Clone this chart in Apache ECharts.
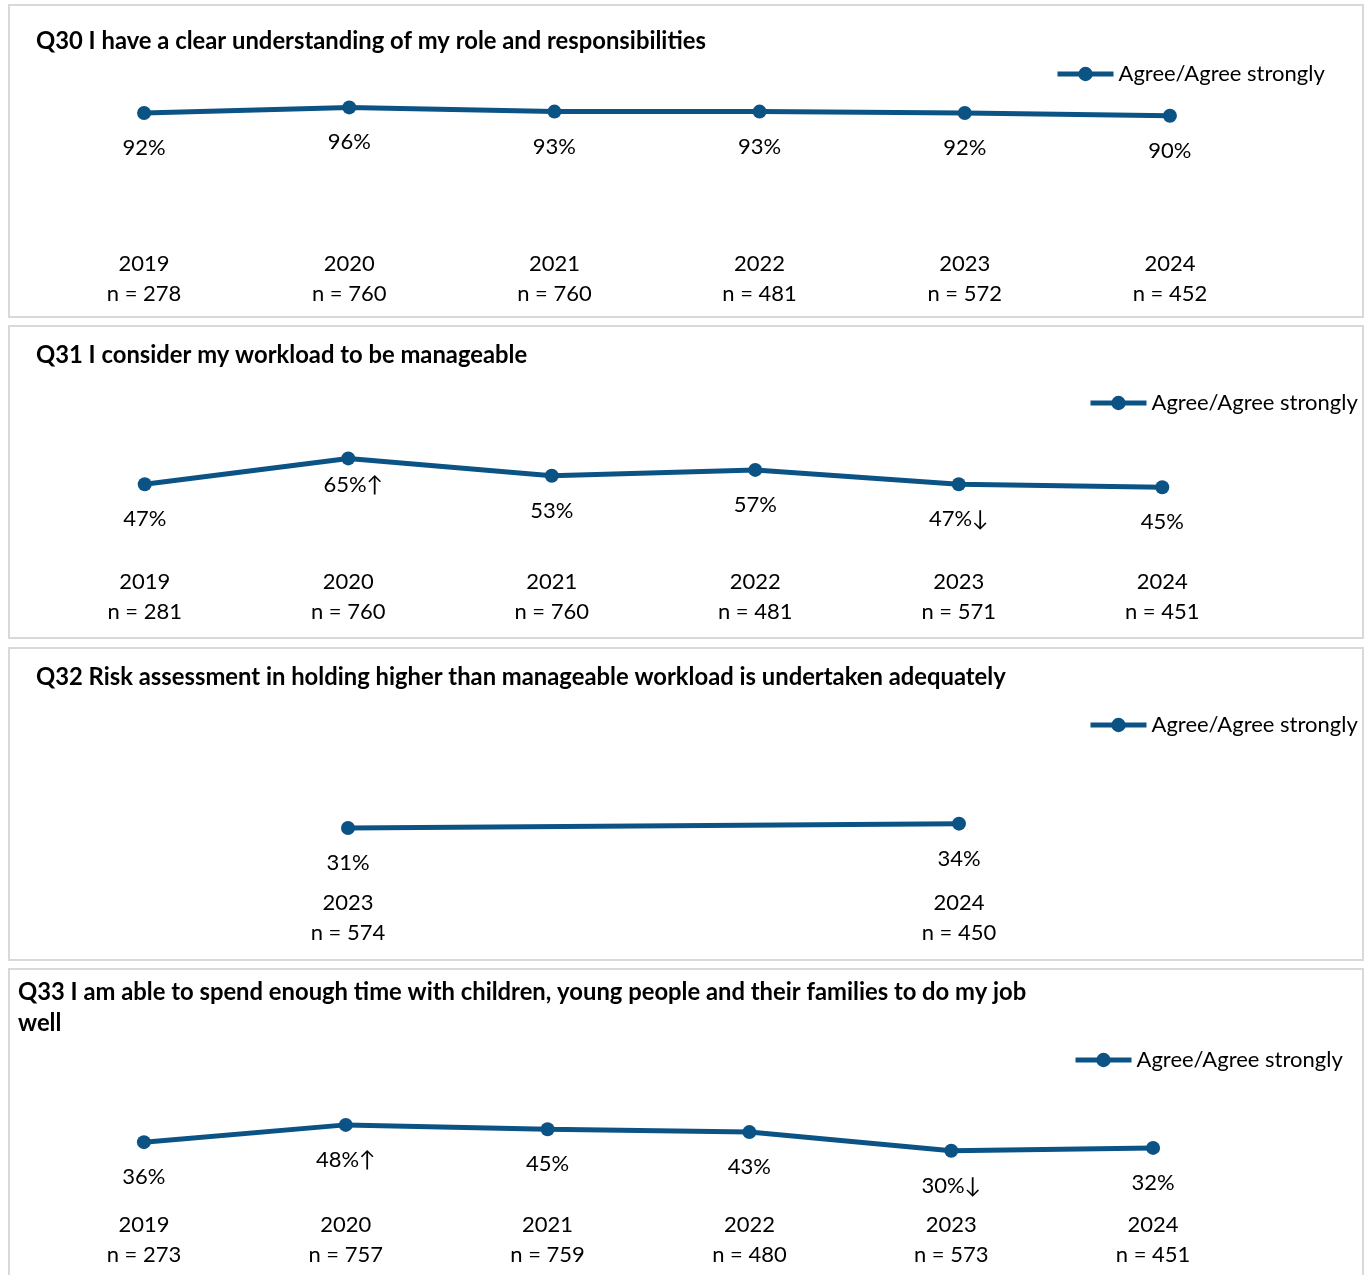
<!DOCTYPE html>
<html>
<head>
<meta charset="utf-8">
<title>Survey trend charts</title>
<script src="https://cdn.jsdelivr.net/npm/echarts@6/dist/echarts.min.js"></script>
<style>
  html, body { margin: 0; padding: 0; background: #fff; width: 1366px; height: 1275px; overflow: hidden; }
  .panel { position: absolute; left: 8px; width: 1356px; height: 314px; box-sizing: border-box; border: 2px solid #d9d9d9; }
</style>
</head>
<body>
<div id="p1" class="panel" style="top:4px"></div>
<div id="p2" class="panel" style="top:325px"></div>
<div id="p3" class="panel" style="top:647px"></div>
<div id="p4" class="panel" style="top:968px"></div>

<script>
// data
const years = ['2019', '2020', '2021', '2022', '2023', '2024']

const q30Values = [92, 96, 93, 93, 92, 90]
const q30N = [278, 760, 760, 481, 572, 452]

const q31Values = [47, 65, 53, 57, 47, 45]
const q31N = [281, 760, 760, 481, 571, 451]
const q31Sig = ['', '↑', '', '', '↓', '']

const q32Years = ['2023', '2024']
const q32Values = [31, 34]
const q32N = [574, 450]

const q33Values = [36, 48, 45, 43, 30, 32]
const q33N = [273, 757, 759, 480, 573, 451]
const q33Sig = ['', '↑', '', '', '↓', '']

const seriesName = 'Agree/Agree strongly'
const lineColor = '#0c5385'
const fontFamily = 'Lato, sans-serif'

const buildChart = (el, cfg) => {
  const chart = echarts.init(document.getElementById(el))
  const cats = cfg.years.map((y, i) => y + '\nn = ' + cfg.n[i])
  const data = cfg.values.map((v, i) => {
    const item = { value: v }
    // a few labels were nudged by hand in the original
    if (cfg.labelTweak && cfg.labelTweak[i]) {
      item.label = cfg.labelTweak[i]
    }
    return item
  })

  chart.setOption({
    animation: false,
    textStyle: { fontFamily: fontFamily },
    title: {
      text: cfg.title,
      left: cfg.titleLeft,
      top: cfg.titleTop,
      textStyle: { fontFamily: fontFamily, fontSize: 23.8, fontWeight: 'bold', color: '#000', lineHeight: 31 }
    },
    legend: {
      data: [seriesName],
      left: cfg.legendLeft,
      top: cfg.legendTop,
      itemWidth: 56,
      itemHeight: 18,
      lineStyle: { width: 5 },
      textStyle: { fontFamily: fontFamily, fontSize: 22, color: '#000' }
    },
    grid: {
      left: cfg.grid[0],
      right: cfg.grid[1],
      top: cfg.grid[2],
      height: cfg.grid[3]
    },
    xAxis: {
      type: 'category',
      data: cats,
      boundaryGap: true,
      axisLine: { show: false },
      axisTick: { show: false },
      splitLine: { show: false },
      axisLabel: {
        interval: 0,
        margin: cfg.labelMargin,
        fontFamily: fontFamily,
        fontSize: 22,
        lineHeight: 29.5,
        color: '#000'
      }
    },
    yAxis: {
      type: 'value',
      min: 0,
      max: 100,
      show: false
    },
    series: [{
      name: seriesName,
      type: 'line',
      data: data,
      symbol: 'circle',
      symbolSize: 14,
      lineStyle: { color: lineColor, width: 5 },
      itemStyle: { color: lineColor },
      label: {
        show: true,
        position: 'bottom',
        distance: 17,
        fontFamily: fontFamily,
        fontSize: 22,
        color: '#000',
        formatter: p => p.value + '%' + (cfg.sig ? cfg.sig[p.dataIndex] : '')
      }
    }]
  })
  return chart
}

buildChart('p1', {
  title: 'Q30 I have a clear understanding of my role and responsibilities',
  titleLeft: 21, titleTop: 15,
  legendLeft: 1040, legendTop: 52,
  grid: [31.5, 89.5, 95.8, 140],
  labelMargin: 7.5,
  years: years, n: q30N, values: q30Values
})

buildChart('p2', {
  title: 'Q31 I consider my workload to be manageable',
  titleLeft: 21, titleTop: 8,
  legendLeft: 1073, legendTop: 60,
  grid: [33, 98, 81, 144],
  labelMargin: 15.5,
  years: years, n: q31N, values: q31Values, sig: q31Sig,
  labelTweak: [null, { distance: 9, offset: [5, 0] }, null, null, null, null]
})

buildChart('p3', {
  title: 'Q32 Risk assessment in holding higher than manageable workload is undertaken adequately',
  titleLeft: 21, titleTop: 8,
  legendLeft: 1073, legendTop: 60,
  grid: [32.5, 97.5, 79.6, 144],
  labelMargin: 16,
  years: q32Years, n: q32N, values: q32Values
})

buildChart('p4', {
  title: 'Q33 I am able to spend enough time with children, young people and their families to do my job\nwell',
  titleLeft: 3, titleTop: 1.5,
  legendLeft: 1058, legendTop: 74,
  grid: [33, 108, 80, 144],
  labelMargin: 16.5,
  years: years, n: q33N, values: q33Values, sig: q33Sig
})
</script>
</body>
</html>
